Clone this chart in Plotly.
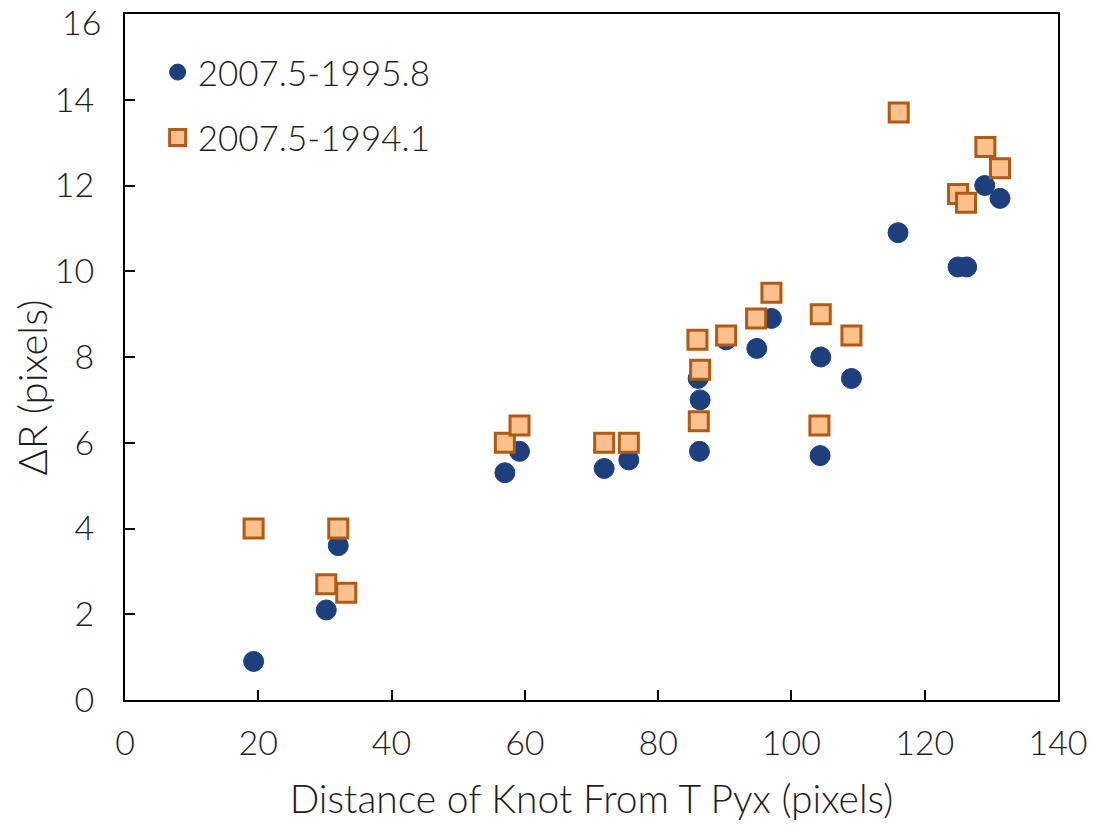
import plotly.graph_objects as go

# Knot distance from T Pyx (pixels) and expansion ΔR (pixels)
dist_a = [19.3, 30.2, 32.0, 57.0, 59.2, 71.9, 75.6, 86.0, 86.3, 86.2, 90.2,
          94.8, 97.0, 104.4, 104.3, 109.0, 116.0, 125.0, 126.3, 129.0, 131.3]
dr_a = [0.9, 2.1, 3.6, 5.3, 5.8, 5.4, 5.6, 7.5, 7.0, 5.8, 8.4,
        8.2, 8.9, 8.0, 5.7, 7.5, 10.9, 10.1, 10.1, 12.0, 11.7]

dist_b = [19.3, 30.2, 32.0, 33.2, 57.0, 59.2, 71.9, 75.6, 85.9, 86.3, 86.1,
          90.2, 94.7, 97.0, 104.4, 104.2, 109.0, 116.1, 125.0, 126.2, 129.1, 131.3]
dr_b = [4.0, 2.7, 4.0, 2.5, 6.0, 6.4, 6.0, 6.0, 8.4, 7.7, 6.5,
        8.5, 8.9, 9.5, 9.0, 6.4, 8.5, 13.7, 11.8, 11.6, 12.9, 12.4]

name_a = "2007.5-1995.8"
name_b = "2007.5-1994.1"

x_ticks = [0, 20, 40, 60, 80, 100, 120, 140]
y_ticks = [0, 2, 4, 6, 8, 10, 12, 14, 16]

FONT = "Lato"
INK = "#1e1e1e"

fig = go.Figure()
fig.add_trace(go.Scatter(
    x=dist_a, y=dr_a, mode="markers", name=name_a, legendgroup="a",
    marker=dict(symbol="circle", size=20, color="#1c3f7e",
                line=dict(width=1, color="#1c3f7e")),
))
fig.add_trace(go.Scatter(
    x=dist_b, y=dr_b, mode="markers", name=name_b, legendgroup="b",
    marker=dict(symbol="square", size=19, color="#fbc18d",
                line=dict(width=3, color="#b25a12")),
))

axis_common = dict(
    showline=True, linecolor="black", linewidth=2, mirror=True,
    ticks="inside", ticklen=10, tickwidth=2, tickcolor="black",
    showgrid=False, zeroline=False, ticklabeloverflow="allow",
    automargin=False,
    tickfont=dict(family=FONT, size=34, color=INK, weight=300),
)

fig.update_xaxes(range=[0, 140], tickvals=x_ticks, ticklabelstandoff=12,
                 title=dict(text="Distance of Knot From T Pyx (pixels)",
                            font=dict(family=FONT, size=39, color=INK, weight=300),
                            standoff=25),
                 **axis_common)
# the top value sits on the frame; its label is placed as an annotation so it
# stays inside the page
fig.update_yaxes(range=[0, 16], tickvals=y_ticks[:-1], ticklabelstandoff=22,
                 **axis_common)

fig.update_layout(
    width=1093, height=826,
    margin=dict(l=125, r=35, t=14, b=126),
    paper_bgcolor="white", plot_bgcolor="white",
    font=dict(family=FONT, size=34, color=INK, weight=300),
    legend=dict(x=0.035, y=0.958, xanchor="left", yanchor="top",
                bgcolor="rgba(0,0,0,0)", tracegroupgap=17,
                traceorder="grouped", itemwidth=30,
                font=dict(family=FONT, size=35, color=INK, weight=300)),
    annotations=[
        dict(text="ΔR (pixels)", textangle=-90, showarrow=False,
             xref="paper", yref="paper", x=-0.1, y=0.455,
             xanchor="center", yanchor="middle",
             font=dict(family=FONT, size=40, color=INK, weight=300)),
        dict(text=str(y_ticks[-1]), showarrow=False,
             xref="paper", yref="y", x=-22 / 933, y=y_ticks[-1],
             xanchor="right", yanchor="middle", yshift=-7,
             font=dict(family=FONT, size=34, color=INK, weight=300)),
    ],
)

fig.write_html("out.html")
